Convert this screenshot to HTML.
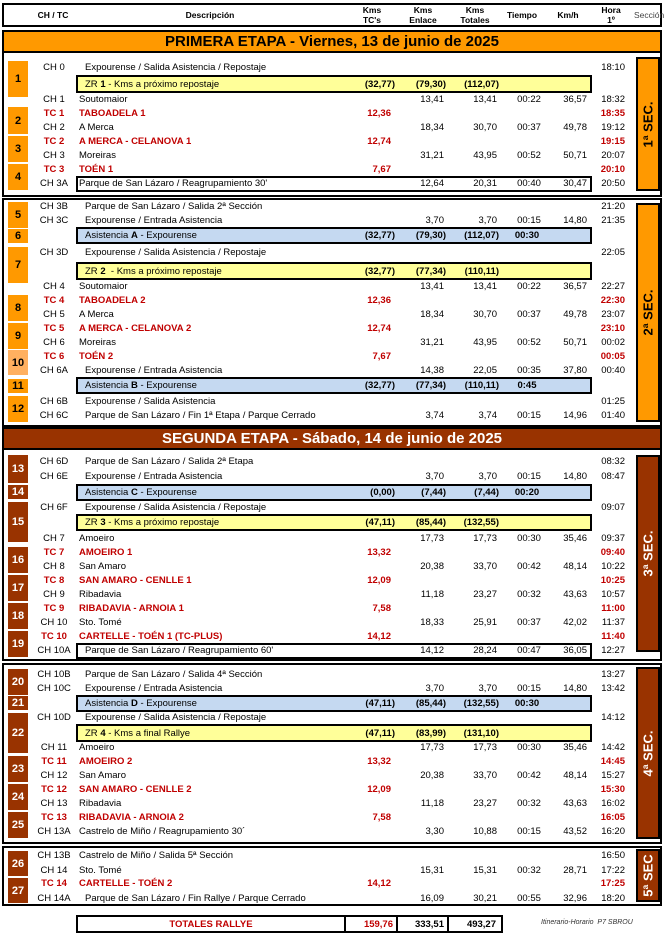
<!DOCTYPE html>
<html><head><meta charset="utf-8"><style>
*{margin:0;padding:0;box-sizing:border-box}
body{width:664px;height:934px;background:#fff;position:relative;overflow:hidden;font-family:"Liberation Sans",sans-serif;font-size:9.5px;color:#000}
.a{position:absolute}
.bx{position:absolute;border:2px solid #000}
.r{position:absolute;left:0;width:664px;height:14px;line-height:14px;white-space:nowrap}
.r>span{position:absolute;top:0}
.c{left:30px;width:48px;text-align:center}
.d{left:85px}.d2{left:79px}
.t{left:331px;width:60px;text-align:right}
.e{left:384px;width:60px;text-align:right}
.k{left:437px;width:60px;text-align:right}
.m{left:504px;width:50px;text-align:center}
.v{left:527px;width:60px;text-align:right}
.h{left:565px;width:60px;text-align:right}
.bt{left:335px;width:60px;text-align:right;font-weight:bold}
.be{left:386px;width:60px;text-align:right;font-weight:bold}
.bk{left:439px;width:60px;text-align:right;font-weight:bold}
.bm{left:502px;width:50px;text-align:center;font-weight:bold}
.red{color:#c00000;font-weight:bold}
.n{position:absolute;left:8px;width:20px;display:flex;align-items:center;justify-content:center;font-weight:bold;font-size:11px}
.o{background:#ff9900;color:#000}
.o2{background:#ffb060;color:#000}
.br{background:#993300;color:#fff}
.zr{position:absolute;left:76px;width:516px;border:2px solid #000;background:#ffff99}
.as{position:absolute;left:76px;width:516px;border:2px solid #000;background:#c5d9f1}
.wb{position:absolute;left:76px;width:516px;border:2px solid #000;background:#fff}
.sec{position:absolute;left:636px;width:24px;border:2px solid #000;display:flex;align-items:center;justify-content:center}
.sec span{transform:rotate(-90deg);white-space:nowrap;font-weight:bold;font-size:13px}
.hd{position:absolute;font-weight:bold;font-size:8.5px;text-align:center;line-height:10px}
.ban{position:absolute;left:2px;width:660px;height:23px;border:2px solid #000;text-align:center;font-weight:bold;font-size:15px;line-height:19px}
</style></head><body>

<div class="bx" style="left:2px;top:3px;width:660px;height:24px"></div>
<div class="hd" style="left:28px;top:10px;width:50px">CH / TC</div>
<div class="hd" style="left:160px;top:10px;width:100px">Descripción</div>
<div class="hd" style="left:352px;top:5px;width:40px">Kms<br>TC's</div>
<div class="hd" style="left:403px;top:5px;width:40px">Kms<br>Enlace</div>
<div class="hd" style="left:455px;top:5px;width:40px">Kms<br>Totales</div>
<div class="hd" style="left:502px;top:10px;width:40px">Tiempo</div>
<div class="hd" style="left:548px;top:10px;width:40px">Km/h</div>
<div class="hd" style="left:596px;top:5px;width:30px">Hora<br>1º</div>
<div class="a" style="left:634px;top:10px;font-size:8.5px;color:#444">Sección</div>

<div class="ban" style="top:30px;background:#ff9900;color:#000">PRIMERA ETAPA - Viernes, 13 de junio de 2025</div>
<div class="bx" style="left:2px;top:51px;width:660px;height:146px"></div>
<div class="sec o" style="top:57px;height:134px"><span>1ª SEC.</span></div>
<div class="n o" style="top:61px;height:36px">1</div>
<div class="n o" style="top:107px;height:27px">2</div>
<div class="n o" style="top:136px;height:26px">3</div>
<div class="n o" style="top:164px;height:26px">4</div>

<div class="r" style="top:61px"><span class="c">CH 0</span><span class="d">Expourense / Salida Asistencia / Repostaje</span><span class="h">18:10</span></div>
<div class="zr" style="top:75px;height:18px"></div>
<div class="r" style="top:78px"><span class="d">ZR <b>1</b> - Kms a próximo repostaje</span><span class="bt">(32,77)</span><span class="be">(79,30)</span><span class="bk">(112,07)</span></div>
<div class="r" style="top:93px"><span class="c">CH 1</span><span class="d2">Soutomaior</span><span class="e">13,41</span><span class="k">13,41</span><span class="m">00:22</span><span class="v">36,57</span><span class="h">18:32</span></div>
<div class="r red" style="top:107px"><span class="c">TC 1</span><span class="d2">TABOADELA 1</span><span class="t">12,36</span><span class="h">18:35</span></div>
<div class="r" style="top:121px"><span class="c">CH 2</span><span class="d2">A Merca</span><span class="e">18,34</span><span class="k">30,70</span><span class="m">00:37</span><span class="v">49,78</span><span class="h">19:12</span></div>
<div class="r red" style="top:135px"><span class="c">TC 2</span><span class="d2">A MERCA - CELANOVA 1</span><span class="t">12,74</span><span class="h">19:15</span></div>
<div class="r" style="top:149px"><span class="c">CH 3</span><span class="d2">Moreiras</span><span class="e">31,21</span><span class="k">43,95</span><span class="m">00:52</span><span class="v">50,71</span><span class="h">20:07</span></div>
<div class="r red" style="top:163px"><span class="c">TC 3</span><span class="d2">TOÉN 1</span><span class="t">7,67</span><span class="h">20:10</span></div>
<div class="wb" style="top:176px;height:16px"></div>
<div class="r" style="top:177px"><span class="c">CH 3A</span><span class="d2">Parque de San Lázaro / Reagrupamiento 30'</span><span class="e">12,64</span><span class="k">20,31</span><span class="m">00:40</span><span class="v">30,47</span><span class="h">20:50</span></div>

<div class="bx" style="left:2px;top:198px;width:660px;height:229px"></div>
<div class="sec o" style="top:203px;height:219px"><span>2ª SEC.</span></div>
<div class="n o" style="top:202px;height:26px">5</div>
<div class="n o" style="top:229px;height:14px">6</div>
<div class="n o" style="top:247px;height:36px">7</div>
<div class="n o" style="top:295px;height:26px">8</div>
<div class="n o" style="top:323px;height:26px">9</div>
<div class="n o2" style="top:350px;height:25px">10</div>
<div class="n o" style="top:379px;height:14px">11</div>
<div class="n o" style="top:396px;height:26px">12</div>

<div class="r" style="top:200px"><span class="c">CH 3B</span><span class="d">Parque de San Lázaro / Salida 2ª Sección</span><span class="h">21:20</span></div>
<div class="r" style="top:214px"><span class="c">CH 3C</span><span class="d">Expourense / Entrada Asistencia</span><span class="e">3,70</span><span class="k">3,70</span><span class="m">00:15</span><span class="v">14,80</span><span class="h">21:35</span></div>
<div class="as" style="top:227px;height:17px"></div>
<div class="r" style="top:229px"><span class="d">Asistencia <b>A</b> - Expourense</span><span class="bt">(32,77)</span><span class="be">(79,30)</span><span class="bk">(112,07)</span><span class="bm">00:30</span></div>
<div class="r" style="top:246px"><span class="c">CH 3D</span><span class="d">Expourense / Salida Asistencia / Repostaje</span><span class="h">22:05</span></div>
<div class="zr" style="top:262px;height:18px"></div>
<div class="r" style="top:265px"><span class="d">ZR <b>2</b>&nbsp; - Kms a próximo repostaje</span><span class="bt">(32,77)</span><span class="be">(77,34)</span><span class="bk">(110,11)</span></div>
<div class="r" style="top:280px"><span class="c">CH 4</span><span class="d2">Soutomaior</span><span class="e">13,41</span><span class="k">13,41</span><span class="m">00:22</span><span class="v">36,57</span><span class="h">22:27</span></div>
<div class="r red" style="top:294px"><span class="c">TC 4</span><span class="d2">TABOADELA 2</span><span class="t">12,36</span><span class="h">22:30</span></div>
<div class="r" style="top:308px"><span class="c">CH 5</span><span class="d2">A Merca</span><span class="e">18,34</span><span class="k">30,70</span><span class="m">00:37</span><span class="v">49,78</span><span class="h">23:07</span></div>
<div class="r red" style="top:322px"><span class="c">TC 5</span><span class="d2">A MERCA - CELANOVA 2</span><span class="t">12,74</span><span class="h">23:10</span></div>
<div class="r" style="top:336px"><span class="c">CH 6</span><span class="d2">Moreiras</span><span class="e">31,21</span><span class="k">43,95</span><span class="m">00:52</span><span class="v">50,71</span><span class="h">00:02</span></div>
<div class="r red" style="top:350px"><span class="c">TC 6</span><span class="d2">TOÉN 2</span><span class="t">7,67</span><span class="h">00:05</span></div>
<div class="r" style="top:364px"><span class="c">CH 6A</span><span class="d">Expourense / Entrada Asistencia</span><span class="e">14,38</span><span class="k">22,05</span><span class="m">00:35</span><span class="v">37,80</span><span class="h">00:40</span></div>
<div class="as" style="top:377px;height:17px"></div>
<div class="r" style="top:379px"><span class="d">Asistencia <b>B</b> - Expourense</span><span class="bt">(32,77)</span><span class="be">(77,34)</span><span class="bk">(110,11)</span><span class="bm">0:45</span></div>
<div class="r" style="top:395px"><span class="c">CH 6B</span><span class="d">Expourense / Salida Asistencia</span><span class="h">01:25</span></div>
<div class="r" style="top:409px"><span class="c">CH 6C</span><span class="d">Parque de San Lázaro / Fin 1ª Etapa / Parque Cerrado</span><span class="e">3,74</span><span class="k">3,74</span><span class="m">00:15</span><span class="v">14,96</span><span class="h">01:40</span></div>

<div class="ban" style="top:427px;background:#993300;color:#fff">SEGUNDA ETAPA - Sábado, 14 de junio de 2025</div>
<div class="bx" style="left:2px;top:448px;width:660px;height:213px"></div>
<div class="sec br" style="top:455px;height:197px"><span>3ª SEC.</span></div>
<div class="n br" style="top:455px;height:28px">13</div>
<div class="n br" style="top:485px;height:14px">14</div>
<div class="n br" style="top:502px;height:40px">15</div>
<div class="n br" style="top:547px;height:26px">16</div>
<div class="n br" style="top:575px;height:26px">17</div>
<div class="n br" style="top:603px;height:26px">18</div>
<div class="n br" style="top:631px;height:26px">19</div>

<div class="r" style="top:455px"><span class="c">CH 6D</span><span class="d">Parque de San Lázaro / Salida 2ª Etapa</span><span class="h">08:32</span></div>
<div class="r" style="top:470px"><span class="c">CH 6E</span><span class="d">Expourense / Entrada Asistencia</span><span class="e">3,70</span><span class="k">3,70</span><span class="m">00:15</span><span class="v">14,80</span><span class="h">08:47</span></div>
<div class="as" style="top:484px;height:17px"></div>
<div class="r" style="top:486px"><span class="d">Asistencia <b>C</b> - Expourense</span><span class="bt">(0,00)</span><span class="be">(7,44)</span><span class="bk">(7,44)</span><span class="bm">00:20</span></div>
<div class="r" style="top:501px"><span class="c">CH 6F</span><span class="d">Expourense / Salida Asistencia / Repostaje</span><span class="h">09:07</span></div>
<div class="zr" style="top:514px;height:17px"></div>
<div class="r" style="top:516px"><span class="d">ZR <b>3</b> - Kms a próximo repostaje</span><span class="bt">(47,11)</span><span class="be">(85,44)</span><span class="bk">(132,55)</span></div>
<div class="r" style="top:532px"><span class="c">CH 7</span><span class="d2">Amoeiro</span><span class="e">17,73</span><span class="k">17,73</span><span class="m">00:30</span><span class="v">35,46</span><span class="h">09:37</span></div>
<div class="r red" style="top:546px"><span class="c">TC 7</span><span class="d2">AMOEIRO 1</span><span class="t">13,32</span><span class="h">09:40</span></div>
<div class="r" style="top:560px"><span class="c">CH 8</span><span class="d2">San Amaro</span><span class="e">20,38</span><span class="k">33,70</span><span class="m">00:42</span><span class="v">48,14</span><span class="h">10:22</span></div>
<div class="r red" style="top:574px"><span class="c">TC 8</span><span class="d2">SAN AMARO - CENLLE 1</span><span class="t">12,09</span><span class="h">10:25</span></div>
<div class="r" style="top:588px"><span class="c">CH 9</span><span class="d2">Ribadavia</span><span class="e">11,18</span><span class="k">23,27</span><span class="m">00:32</span><span class="v">43,63</span><span class="h">10:57</span></div>
<div class="r red" style="top:602px"><span class="c">TC 9</span><span class="d2">RIBADAVIA - ARNOIA 1</span><span class="t">7,58</span><span class="h">11:00</span></div>
<div class="r" style="top:616px"><span class="c">CH 10</span><span class="d2">Sto. Tomé</span><span class="e">18,33</span><span class="k">25,91</span><span class="m">00:37</span><span class="v">42,02</span><span class="h">11:37</span></div>
<div class="r red" style="top:630px"><span class="c">TC 10</span><span class="d2">CARTELLE - TOÉN 1 (TC-PLUS)</span><span class="t">14,12</span><span class="h">11:40</span></div>
<div class="wb" style="top:643px;height:16px"></div>
<div class="r" style="top:644px"><span class="c">CH 10A</span><span class="d">Parque de San Lázaro / Reagrupamiento 60'</span><span class="e">14,12</span><span class="k">28,24</span><span class="m">00:47</span><span class="v">36,05</span><span class="h">12:27</span></div>

<div class="bx" style="left:2px;top:663px;width:660px;height:181px"></div>
<div class="sec br" style="top:667px;height:172px"><span>4ª SEC.</span></div>
<div class="n br" style="top:669px;height:26px">20</div>
<div class="n br" style="top:696px;height:14px">21</div>
<div class="n br" style="top:713px;height:40px">22</div>
<div class="n br" style="top:756px;height:26px">23</div>
<div class="n br" style="top:784px;height:26px">24</div>
<div class="n br" style="top:812px;height:26px">25</div>

<div class="r" style="top:668px"><span class="c">CH 10B</span><span class="d">Parque de San Lázaro / Salida 4ª Sección</span><span class="h">13:27</span></div>
<div class="r" style="top:682px"><span class="c">CH 10C</span><span class="d">Expourense / Entrada Asistencia</span><span class="e">3,70</span><span class="k">3,70</span><span class="m">00:15</span><span class="v">14,80</span><span class="h">13:42</span></div>
<div class="as" style="top:695px;height:17px"></div>
<div class="r" style="top:697px"><span class="d">Asistencia <b>D</b> - Expourense</span><span class="bt">(47,11)</span><span class="be">(85,44)</span><span class="bk">(132,55)</span><span class="bm">00:30</span></div>
<div class="r" style="top:711px"><span class="c">CH 10D</span><span class="d">Expourense / Salida Asistencia / Repostaje</span><span class="h">14:12</span></div>
<div class="zr" style="top:724px;height:18px"></div>
<div class="r" style="top:727px"><span class="d">ZR <b>4</b> - Kms a final Rallye</span><span class="bt">(47,11)</span><span class="be">(83,99)</span><span class="bk">(131,10)</span></div>
<div class="r" style="top:741px"><span class="c">CH 11</span><span class="d2">Amoeiro</span><span class="e">17,73</span><span class="k">17,73</span><span class="m">00:30</span><span class="v">35,46</span><span class="h">14:42</span></div>
<div class="r red" style="top:755px"><span class="c">TC 11</span><span class="d2">AMOEIRO 2</span><span class="t">13,32</span><span class="h">14:45</span></div>
<div class="r" style="top:769px"><span class="c">CH 12</span><span class="d2">San Amaro</span><span class="e">20,38</span><span class="k">33,70</span><span class="m">00:42</span><span class="v">48,14</span><span class="h">15:27</span></div>
<div class="r red" style="top:783px"><span class="c">TC 12</span><span class="d2">SAN AMARO - CENLLE 2</span><span class="t">12,09</span><span class="h">15:30</span></div>
<div class="r" style="top:797px"><span class="c">CH 13</span><span class="d2">Ribadavia</span><span class="e">11,18</span><span class="k">23,27</span><span class="m">00:32</span><span class="v">43,63</span><span class="h">16:02</span></div>
<div class="r red" style="top:811px"><span class="c">TC 13</span><span class="d2">RIBADAVIA - ARNOIA 2</span><span class="t">7,58</span><span class="h">16:05</span></div>
<div class="r" style="top:825px"><span class="c">CH 13A</span><span class="d2">Castrelo de Miño / Reagrupamiento 30´</span><span class="e">3,30</span><span class="k">10,88</span><span class="m">00:15</span><span class="v">43,52</span><span class="h">16:20</span></div>

<div class="bx" style="left:2px;top:846px;width:660px;height:60px"></div>
<div class="sec br" style="top:849px;height:53px"><span>5ª SEC</span></div>
<div class="n br" style="top:851px;height:25px">26</div>
<div class="n br" style="top:878px;height:25px">27</div>
<div class="r" style="top:849px"><span class="c">CH 13B</span><span class="d2">Castrelo de Miño / Salida 5ª Sección</span><span class="h">16:50</span></div>
<div class="r" style="top:864px"><span class="c">CH 14</span><span class="d2">Sto. Tomé</span><span class="e">15,31</span><span class="k">15,31</span><span class="m">00:32</span><span class="v">28,71</span><span class="h">17:22</span></div>
<div class="r red" style="top:877px"><span class="c">TC 14</span><span class="d2">CARTELLE - TOÉN 2</span><span class="t">14,12</span><span class="h">17:25</span></div>
<div class="r" style="top:892px"><span class="c">CH 14A</span><span class="d">Parque de San Lázaro / Fin Rallye / Parque Cerrado</span><span class="e">16,09</span><span class="k">30,21</span><span class="m">00:55</span><span class="v">32,96</span><span class="h">18:20</span></div>

<div class="bx" style="left:76px;top:915px;width:427px;height:18px"></div>
<div class="a" style="left:344px;top:915px;width:2px;height:18px;background:#000"></div>
<div class="a" style="left:396px;top:915px;width:2px;height:18px;background:#000"></div>
<div class="a" style="left:447px;top:915px;width:2px;height:18px;background:#000"></div>
<div class="r" style="top:918px;font-weight:bold">
<span class="red" style="left:78px;width:266px;text-align:center">TOTALES RALLYE</span>
<span class="red" style="left:333px;width:60px;text-align:right">159,76</span>
<span style="left:384px;width:60px;text-align:right">333,51</span>
<span style="left:436px;width:60px;text-align:right">493,27</span>
</div>
<div class="a" style="left:541px;top:919px;font-size:7px;font-style:italic;color:#333">Itinerario-Horario&nbsp; P7 SBROU</div>
</body></html>
